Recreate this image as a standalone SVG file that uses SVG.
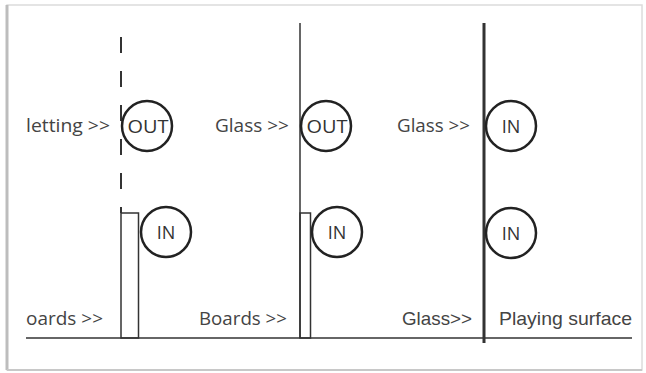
<svg xmlns="http://www.w3.org/2000/svg" width="646" height="373" viewBox="0 0 646 373">
<style>
.lbl{font-family:"Open Sans","Liberation Sans",sans-serif;font-size:18px;fill:#444}
.lbl2{font-family:"Liberation Sans","Open Sans",sans-serif;font-size:19px;fill:#444}
.ct{font-family:"Open Sans","Liberation Sans",sans-serif;font-size:18px;fill:#333;text-anchor:middle}
.c{fill:none;stroke:#222;stroke-width:2.5}
.ln{stroke:#333;fill:none}
</style>
<rect width="646" height="373" fill="#fff"/>
<g id="frame">
<rect x="7" y="5" width="635" height="365" fill="#fff" stroke="#dcdcdc" stroke-width="1.5"/>
<line x1="7" y1="5" x2="7" y2="370" stroke="#bdbdbd" stroke-width="3"/>
<line x1="7" y1="370" x2="642" y2="370" stroke="#c8c8c8" stroke-width="2"/>
</g>
<g id="connectors">
<line class="ln" x1="121" y1="37" x2="121" y2="213" stroke-width="2" stroke-dasharray="16 18"/>
<line class="ln" x1="300" y1="23" x2="300" y2="338" stroke-width="1.5"/>
<line class="ln" x1="484" y1="23" x2="484" y2="343" stroke-width="3"/>
<line class="ln" x1="26" y1="338" x2="632" y2="338" stroke-width="1.5"/>
</g>
<g id="board1"><rect class="ln" x="121" y="213" width="17.5" height="125" stroke-width="1.5"/></g>
<g id="board2"><rect class="ln" x="300" y="213" width="10.5" height="125" stroke-width="1.5"/></g>
<g id="out1"><circle class="c" cx="147" cy="126" r="25"/><text class="ct" x="148" y="133" textLength="41" lengthAdjust="spacingAndGlyphs">OUT</text></g>
<g id="in1"><circle class="c" cx="166" cy="232" r="25"/><text class="ct" x="166" y="239">IN</text></g>
<g id="out2"><circle class="c" cx="326" cy="126" r="25"/><text class="ct" x="327" y="133" textLength="41" lengthAdjust="spacingAndGlyphs">OUT</text></g>
<g id="in2"><circle class="c" cx="337" cy="232" r="25"/><text class="ct" x="337" y="239">IN</text></g>
<g id="in3"><circle class="c" cx="511" cy="126" r="25"/><text class="ct" x="511" y="133">IN</text></g>
<g id="in4"><circle class="c" cx="511" cy="233" r="25"/><text class="ct" x="511" y="240">IN</text></g>
<g id="labels">
<text class="lbl" x="26" y="132" textLength="84" lengthAdjust="spacingAndGlyphs">letting &gt;&gt;</text>
<text class="lbl" x="215" y="132" textLength="74" lengthAdjust="spacingAndGlyphs">Glass &gt;&gt;</text>
<text class="lbl" x="397" y="132" textLength="73" lengthAdjust="spacingAndGlyphs">Glass &gt;&gt;</text>
<text class="lbl" x="26" y="325" textLength="77" lengthAdjust="spacingAndGlyphs">oards &gt;&gt;</text>
<text class="lbl" x="199" y="325" textLength="88" lengthAdjust="spacingAndGlyphs">Boards &gt;&gt;</text>
<text class="lbl2" x="402" y="325" textLength="70" lengthAdjust="spacingAndGlyphs">Glass&gt;&gt;</text>
<text class="lbl2" x="499" y="325" textLength="133" lengthAdjust="spacingAndGlyphs">Playing surface</text>
</g>
</svg>
